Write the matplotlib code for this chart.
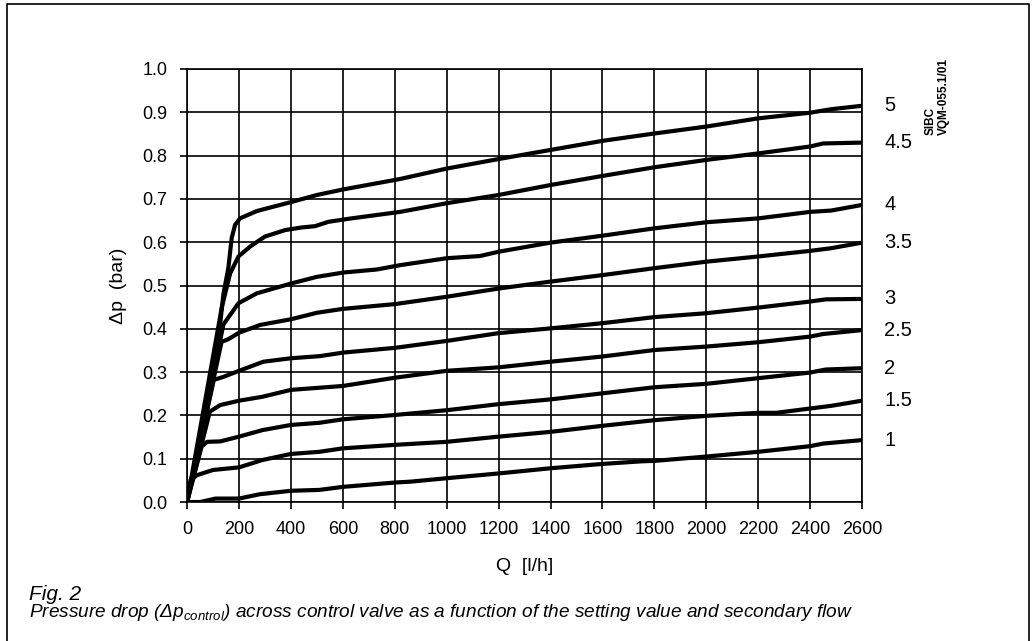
import matplotlib
matplotlib.use('Agg')
import matplotlib.pyplot as plt
from matplotlib.lines import Line2D

plt.rcParams['font.family'] = ['Liberation Sans', 'DejaVu Sans']
plt.rcParams['mathtext.fontset'] = 'custom'
plt.rcParams['mathtext.it'] = 'Liberation Sans:italic'
plt.rcParams['mathtext.rm'] = 'Liberation Sans:italic'

# setting value -> (Q [l/h], dp [bar])
settings = ['1', '1.5', '2', '2.5', '3', '3.5', '4', '4.5', '5']

q_1 = [0, 50, 110, 200, 280, 400, 510, 600, 800, 860, 1000, 1200, 1400, 1600, 1750, 1800, 2000, 2200, 2400, 2450, 2600]
dp_1 = [0, 0.0, 0.008, 0.008, 0.018, 0.026, 0.028, 0.035, 0.045, 0.047, 0.055, 0.066, 0.078, 0.088, 0.094, 0.095, 0.105, 0.116, 0.129, 0.135, 0.143]

q_15 = [0, 13, 38, 100, 200, 290, 400, 510, 600, 800, 1000, 1200, 1400, 1600, 1800, 2000, 2200, 2270, 2400, 2480, 2600]
dp_15 = [0, 0.05, 0.062, 0.074, 0.080, 0.097, 0.111, 0.116, 0.124, 0.132, 0.139, 0.151, 0.162, 0.176, 0.189, 0.199, 0.206, 0.206, 0.216, 0.222, 0.234]

q_2 = [0, 56, 77, 128, 200, 290, 400, 510, 600, 800, 1000, 1200, 1400, 1600, 1800, 2000, 2200, 2400, 2460, 2600]
dp_2 = [0, 0.128, 0.139, 0.140, 0.151, 0.166, 0.178, 0.183, 0.191, 0.201, 0.212, 0.226, 0.237, 0.251, 0.265, 0.273, 0.286, 0.299, 0.306, 0.309]

q_25 = [0, 88, 128, 200, 290, 400, 600, 800, 1000, 1200, 1400, 1600, 1800, 2000, 2200, 2400, 2450, 2600]
dp_25 = [0, 0.209, 0.224, 0.234, 0.243, 0.259, 0.268, 0.287, 0.303, 0.311, 0.324, 0.336, 0.351, 0.359, 0.369, 0.382, 0.388, 0.397]

q_3 = [0, 103, 140, 200, 294, 400, 513, 600, 800, 1000, 1200, 1400, 1600, 1800, 2000, 2200, 2400, 2460, 2600]
dp_3 = [0, 0.282, 0.289, 0.303, 0.324, 0.332, 0.337, 0.345, 0.356, 0.372, 0.390, 0.401, 0.413, 0.427, 0.436, 0.449, 0.463, 0.468, 0.469]

q_35 = [0, 133, 159, 200, 282, 400, 500, 600, 800, 1000, 1200, 1400, 1600, 1800, 2000, 2200, 2400, 2480, 2600]
dp_35 = [0, 0.370, 0.376, 0.391, 0.409, 0.422, 0.437, 0.446, 0.457, 0.474, 0.493, 0.509, 0.524, 0.540, 0.555, 0.567, 0.580, 0.586, 0.599]

q_4 = [0, 140, 198, 269, 403, 500, 603, 731, 821, 1000, 1128, 1200, 1400, 1600, 1800, 2000, 2200, 2400, 2480, 2600]
dp_4 = [0, 0.41, 0.459, 0.482, 0.505, 0.520, 0.530, 0.537, 0.547, 0.563, 0.568, 0.578, 0.599, 0.615, 0.632, 0.646, 0.655, 0.670, 0.673, 0.686]

q_45 = [0, 134, 166, 198, 243, 300, 378, 441, 493, 544, 633, 821, 1000, 1200, 1400, 1600, 1800, 2000, 2200, 2400, 2450, 2600]
dp_45 = [0, 0.45, 0.528, 0.567, 0.590, 0.613, 0.628, 0.634, 0.637, 0.647, 0.655, 0.670, 0.690, 0.709, 0.732, 0.753, 0.773, 0.790, 0.805, 0.821, 0.828, 0.830]

q_5 = [0, 120, 140, 159, 172, 185, 204, 269, 403, 500, 603, 821, 1000, 1200, 1400, 1600, 1800, 2000, 2200, 2400, 2480, 2600]
dp_5 = [0, 0.37, 0.48, 0.54, 0.61, 0.640, 0.655, 0.672, 0.693, 0.709, 0.722, 0.746, 0.770, 0.792, 0.813, 0.834, 0.851, 0.867, 0.886, 0.899, 0.907, 0.915]

curves = [(q_1, dp_1), (q_15, dp_15), (q_2, dp_2), (q_25, dp_25), (q_3, dp_3),
          (q_35, dp_35), (q_4, dp_4), (q_45, dp_45), (q_5, dp_5)]

fig = plt.figure(figsize=(10.34, 6.41), dpi=100)
ax = fig.add_axes([0.1809, 0.2168, 0.6528, 0.6756])

for (q, dp), name in zip(curves, settings):
    ax.plot(q, dp, color='black', lw=3.0, solid_joinstyle='round', solid_capstyle='round', zorder=3)
    ax.annotate(name, xy=(2600, dp[-1]), xytext=(22, 0), textcoords='offset pixels',
                va='center', ha='left', fontsize=14.5, annotation_clip=False)

ax.set_xlim(0, 2600)
ax.set_ylim(0, 1.0)
ax.set_xticks(range(0, 2601, 200))
ax.set_yticks([i / 10 for i in range(11)])
ax.set_yticklabels(['%.1f' % (i / 10) for i in range(11)])
ax.grid(True, color='black', lw=1.2)
for s in ax.spines.values():
    s.set_linewidth(1.2)
ax.tick_params(direction='out', length=5, width=1.2, labelsize=13)
ax.tick_params(axis='y', pad=9)
ax.tick_params(axis='x', pad=9)

ax.set_ylabel('\u0394p  (bar)', fontsize=14, labelpad=11)
ax.set_xlabel('Q  [l/h]', fontsize=14, labelpad=14)

# document code, rotated
fig.text(0.9005, 0.79, 'SIBC', rotation=90, fontsize=8.5, fontweight='bold',
         ha='center', va='bottom')
fig.text(0.9125, 0.79, 'VQM-055.1/01', rotation=90, fontsize=8.5, fontweight='bold',
         ha='center', va='bottom')

# caption
fig.text(29 / 1034, 1 - 600 / 641, 'Fig. 2', fontsize=15, style='italic',
         ha='left', va='baseline')
fig.text(29 / 1034, 1 - 617 / 641,
         r'Pressure drop ($\Delta p_{control}$) across control valve as a function of the setting value and secondary flow',
         fontsize=13.7, style='italic', ha='left', va='baseline')

# frame round the figure (bottom runs off the page)
x0, x1, y0 = 7 / 1034, 1029 / 1034, 1 - 4 / 641
fig.add_artist(Line2D([x0, x0, x1, x1], [0, y0, y0, 0], transform=fig.transFigure, color='black', lw=1.2))

fig.savefig('out.png', dpi=100)
